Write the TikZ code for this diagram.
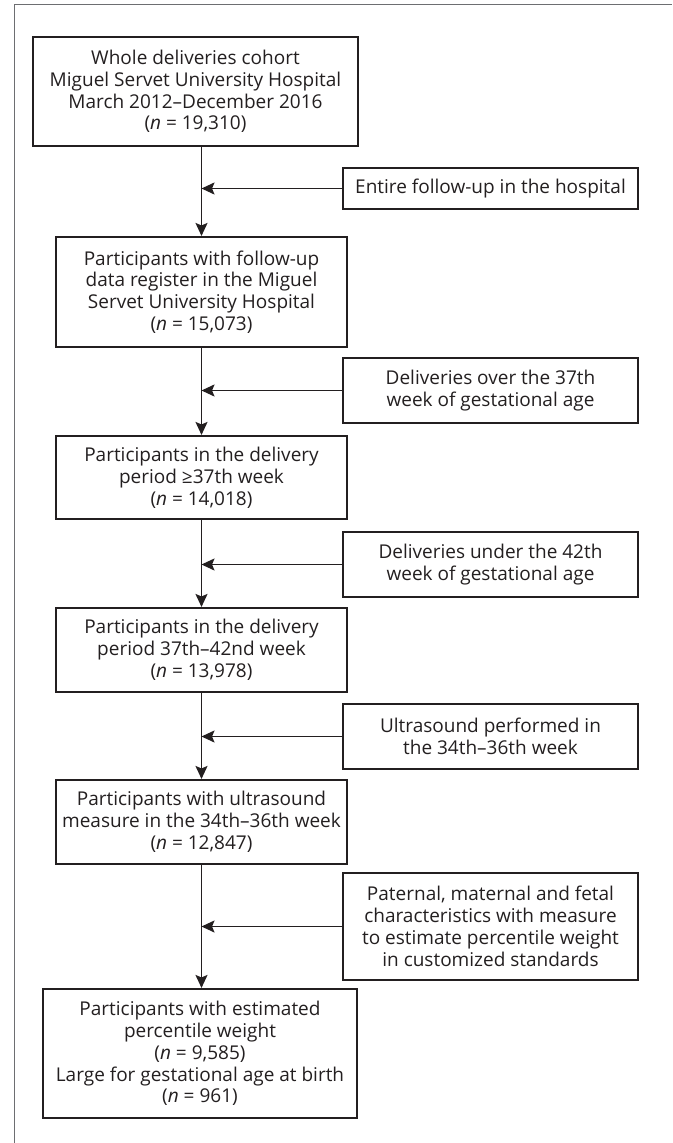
\documentclass[tikz,border=0pt]{standalone}
\usepackage{fontspec}
\setmainfont{Open Sans}
\usetikzlibrary{arrows.meta}
\definecolor{ink}{HTML}{231F20}
\definecolor{framegray}{HTML}{6D6E71}
\begin{document}
\begin{tikzpicture}[x=1pt,y=-1pt,
  every node/.style={font=\fontsize{19}{21.8}\selectfont, text=ink},
  mainbox/.style={draw=ink, line width=2.1pt, align=center, inner sep=0pt, minimum width=291pt},
  sidebox/.style={draw=ink, line width=2.1pt, align=center, inner sep=0pt, minimum width=295pt},
  arr/.style={draw=ink, line width=1.7pt, -{Stealth[length=13pt,width=12pt,inset=2.5pt]}}]
\useasboundingbox (0,0) rectangle (672,1143);
\draw[framegray, line width=1.6pt] (14.5,1143) -- (14.5,4.5) -- (672,4.5);

\node[mainbox, minimum width=325pt, minimum height=109pt] (b1) at (195.5,91.5)
  {Whole deliveries cohort\\Miguel Servet University Hospital\\March 2012–December 2016\\(\textit{n} = 19,310)};
\node[sidebox, minimum height=41pt] (s1) at (490.5,188.5)
  {Entire follow-up in the hospital};
\node[mainbox, minimum height=110pt] (b2) at (201.5,292)
  {Participants with follow-up\\data register in the Miguel\\Servet University Hospital\\(\textit{n} = 15,073)};
\node[sidebox, minimum height=65pt] (s2) at (490.5,390.5)
  {Deliveries over the 37th\\week of gestational age};
\node[mainbox, minimum height=83pt] (b3) at (201.5,477.5)
  {Participants in the delivery\\period ≥37th week\\(\textit{n} = 14,018)};
\node[sidebox, minimum height=65pt] (s3) at (490.5,564.5)
  {Deliveries under the 42th\\week of gestational age};
\node[mainbox, minimum height=84pt] (b4) at (201.5,650)
  {Participants in the delivery\\period 37th–42nd week\\(\textit{n} = 13,978)};
\node[sidebox, minimum height=65pt] (s4) at (490.5,736.5)
  {Ultrasound performed in\\the 34th–36th week};
\node[mainbox, minimum height=84pt] (b5) at (201.5,822)
  {Participants with ultrasound\\measure in the 34th–36th week\\(\textit{n} = 12,847)};
\node[sidebox, minimum height=107pt] (s5) at (490.5,926.5)
  {Paternal, maternal and fetal\\characteristics with measure\\to estimate percentile weight\\in customized standards};
\node[mainbox, minimum width=314pt, minimum height=129pt] (b6) at (200,1053.5)
  {Participants with estimated\\percentile weight\\(\textit{n} = 9,585)\\Large for gestational age at birth\\(\textit{n} = 961)};

\draw[arr] (b1.south -| b2.north) -- (b2.north);
\draw[arr] (b2.south) -- (b3.north);
\draw[arr] (b3.south) -- (b4.north);
\draw[arr] (b4.south) -- (b5.north);
\draw[arr] (b5.south) -- (b5.south |- b6.north);
\draw[arr] (s1.west) -- (s1.west -| b2.north);
\draw[arr] (s2.west) -- (s2.west -| b2.north);
\draw[arr] (s3.west) -- (s3.west -| b2.north);
\draw[arr] (s4.west) -- (s4.west -| b2.north);
\draw[arr] (s5.west) -- (s5.west -| b2.north);
\end{tikzpicture}
\end{document}
